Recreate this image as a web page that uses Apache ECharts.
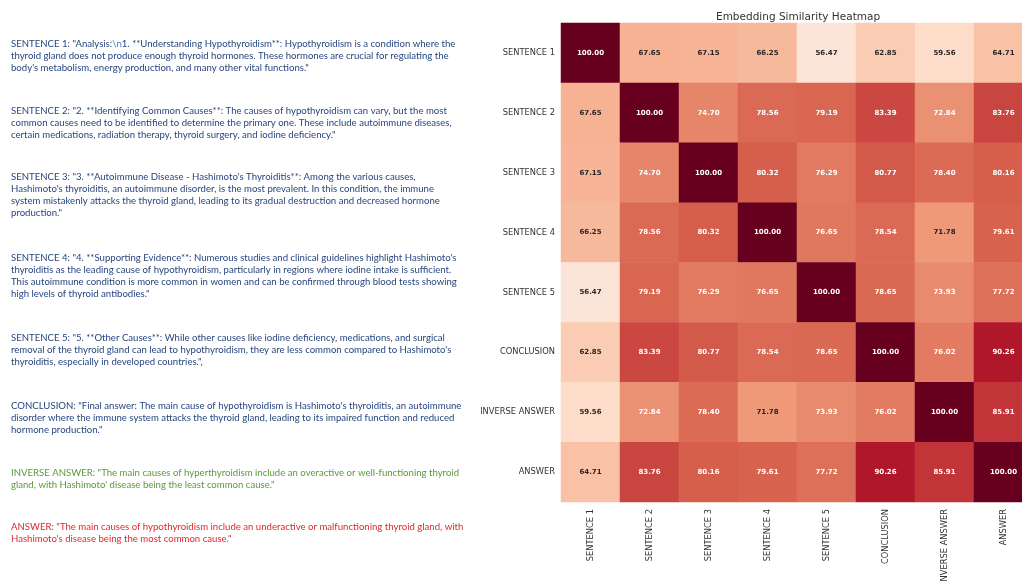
<!DOCTYPE html>
<html>
<head>
<meta charset="utf-8">
<script src="https://cdn.jsdelivr.net/npm/echarts@6/dist/echarts.min.js"></script>
<style>
  html, body { margin: 0; padding: 0; background: #ffffff; }
  #chart { width: 1022px; height: 581px; }
</style>
</head>
<body>
<div id="chart"></div>
<script>
var labels = ['SENTENCE 1', 'SENTENCE 2', 'SENTENCE 3', 'SENTENCE 4', 'SENTENCE 5', 'CONCLUSION', 'INVERSE ANSWER', 'ANSWER']

var rowS1 = [100.00, 67.65, 67.15, 66.25, 56.47, 62.85, 59.56, 64.71]
var rowS2 = [67.65, 100.00, 74.70, 78.56, 79.19, 83.39, 72.84, 83.76]
var rowS3 = [67.15, 74.70, 100.00, 80.32, 76.29, 80.77, 78.40, 80.16]
var rowS4 = [66.25, 78.56, 80.32, 100.00, 76.65, 78.54, 71.78, 79.61]
var rowS5 = [56.47, 79.19, 76.29, 76.65, 100.00, 78.65, 73.93, 77.72]
var rowConclusion = [62.85, 83.39, 80.77, 78.54, 78.65, 100.00, 76.02, 90.26]
var rowInverse = [59.56, 72.84, 78.40, 71.78, 73.93, 76.02, 100.00, 85.91]
var rowAnswer = [64.71, 83.76, 80.16, 79.61, 77.72, 90.26, 85.91, 100.00]
var matrix = [rowS1, rowS2, rowS3, rowS4, rowS5, rowConclusion, rowInverse, rowAnswer]

// texts on the left, one entry per block
var noteTexts = [
  'SENTENCE 1: "Analysis:{c|\\n}1. **Understanding Hypothyroidism**: Hypothyroidism is a condition where the\nthyroid gland does not produce enough thyroid hormones. These hormones are crucial for regulating the\nbody\'s metabolism, energy production, and many other vital functions."',
  'SENTENCE 2: "2. **Identifying Common Causes**: The causes of hypothyroidism can vary, but the most\ncommon causes need to be identified to determine the primary one. These include autoimmune diseases,\ncertain medications, radiation therapy, thyroid surgery, and iodine deficiency."',
  'SENTENCE 3: "3. **Autoimmune Disease - Hashimoto\'s Thyroiditis**: Among the various causes,\nHashimoto\'s thyroiditis, an autoimmune disorder, is the most prevalent. In this condition, the immune\nsystem mistakenly attacks the thyroid gland, leading to its gradual destruction and decreased hormone\nproduction."',
  'SENTENCE 4: "4. **Supporting Evidence**: Numerous studies and clinical guidelines highlight Hashimoto\'s\nthyroiditis as the leading cause of hypothyroidism, particularly in regions where iodine intake is sufficient.\nThis autoimmune condition is more common in women and can be confirmed through blood tests showing\nhigh levels of thyroid antibodies."',
  'SENTENCE 5: "5. **Other Causes**: While other causes like iodine deficiency, medications, and surgical\nremoval of the thyroid gland can lead to hypothyroidism, they are less common compared to Hashimoto\'s\nthyroiditis, especially in developed countries.",',
  'CONCLUSION: "Final answer: The main cause of hypothyroidism is Hashimoto\'s thyroiditis, an autoimmune\ndisorder where the immune system attacks the thyroid gland, leading to its impaired function and reduced\nhormone production."',
  'INVERSE ANSWER: "The main causes of hyperthyroidism include an overactive or well-functioning thyroid\ngland, with Hashimoto\' disease being the least common cause."',
  'ANSWER: "The main causes of hypothyroidism include an underactive or malfunctioning thyroid gland, with\nHashimoto\'s disease being the most common cause."'
]

var noteTops = [38, 105, 171, 252, 332, 400, 467, 521]
var noteColors = ['#27467f', '#27467f', '#27467f', '#27467f', '#27467f', '#27467f', '#5a9a3b', '#e0282c']

// RdBu_r
var rdbu = ['#053061', '#2166ac', '#4393c3', '#92c5de', '#d1e5f0', '#f7f7f7', '#fddbc7', '#f4a582', '#d6604d', '#b2182b', '#67001f']

function BuildData() {
  var data = []
  for (var i = 0; i < matrix.length; i++) {
    for (var j = 0; j < matrix[i].length; j++) {
      var v = matrix[i][j]
      data.push({
        value: [j, i, v],
        label: { color: v < 72 ? '#262626' : '#ffffff' }
      })
    }
  }
  return data
}

function BuildNotes() {
  var g = []
  for (var i = 0; i < noteTexts.length; i++) {
    g.push({
      type: 'text',
      left: 11,
      top: noteTops[i],
      style: {
        text: noteTexts[i],
        fill: noteColors[i],
        font: '9.6px Lato',
        lineHeight: 12,
        rich: {
          c: { fill: '#3f7fd6', font: '9.6px Lato', lineHeight: 12 }
        }
      }
    })
  }
  return g
}

var myChart = echarts.init(document.getElementById('chart'))
var option = {
  animation: false,
  title: {
    text: 'Embedding Similarity Heatmap',
    left: 711,
    top: 7,
    textStyle: { fontFamily: 'DejaVu Sans', fontSize: 10.5, fontWeight: 'normal', color: '#333333' }
  },
  grid: { left: 561, top: 23, width: 472, height: 479, containLabel: false, outerBoundsMode: 'none' },
  xAxis: {
    type: 'category',
    data: labels,
    axisLine: { show: false },
    axisTick: { show: false },
    splitLine: { show: false },
    axisLabel: { rotate: 90, margin: 7, fontFamily: 'DejaVu Sans', fontSize: 8.3, color: '#333333' }
  },
  yAxis: {
    type: 'category',
    data: labels,
    inverse: true,
    axisLine: { show: false },
    axisTick: { show: false },
    splitLine: { show: false },
    axisLabel: { margin: 6, fontFamily: 'DejaVu Sans', fontSize: 8.3, color: '#333333' }
  },
  visualMap: {
    show: false,
    min: 0,
    max: 100,
    dimension: 2,
    inRange: { color: rdbu }
  },
  graphic: BuildNotes(),
  series: [
    {
      type: 'heatmap',
      data: BuildData(),
      itemStyle: { borderWidth: 0 },
      label: {
        show: true,
        fontFamily: 'DejaVu Sans',
        fontSize: 7,
        fontWeight: 'bold',
        formatter: function (p) {
          return p.value[2].toFixed(2)
        }
      }
    }
  ]
}
myChart.setOption(option)
</script>
</body>
</html>
